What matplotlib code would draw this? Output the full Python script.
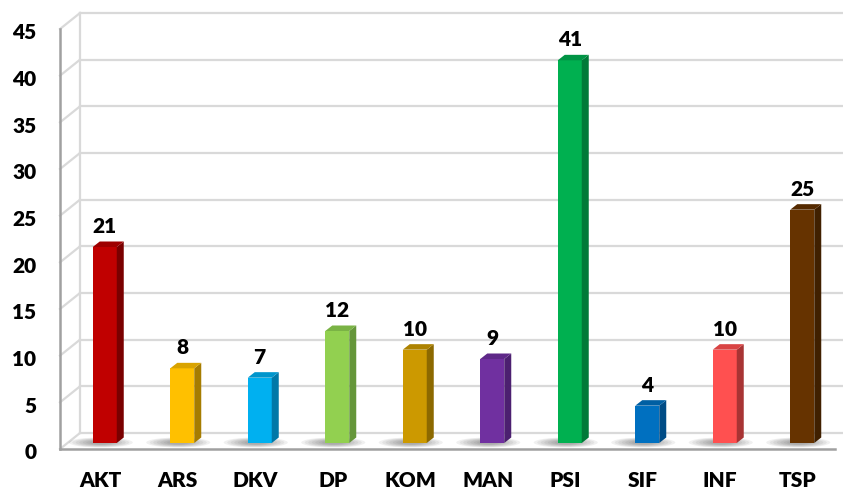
import matplotlib.pyplot as plt
from matplotlib.patches import Polygon, Ellipse

# data
parties = ["AKT", "ARS", "DKV", "DP", "KOM", "MAN", "PSI", "SIF", "INF", "TSP"]
seats = [21, 8, 7, 12, 10, 9, 41, 4, 10, 25]
front_colors = ["#C00000", "#FFC000", "#00B0F0", "#92D050", "#CC9900",
                "#7030A0", "#00B050", "#0070C0", "#FF5050", "#663300"]
side_colors = ["#7A0000", "#A67C00", "#0078A8", "#65963A", "#8C6900",
               "#4C2070", "#007A38", "#004C86", "#A83434", "#402000"]
top_colors = ["#9E0000", "#D9A300", "#0095CC", "#7AB345", "#AD8200",
              "#5E2888", "#009445", "#005FA3", "#D94444", "#552A00"]
yticks = [0, 5, 10, 15, 20, 25, 30, 35, 40, 45]

W, H = 843, 489
fig = plt.figure(figsize=(W / 100, H / 100), dpi=100)
plt.rcParams["font.family"] = ["Lato", "DejaVu Sans"]
FW = "heavy"

# front plane of the box in pixels
x0, x1, y0, y1 = 60, 835, 450, 30
ax = fig.add_axes([x0 / W, (H - y0) / H, (x1 - x0) / W, (y0 - y1) / H])
ax.set_xlim(-0.5, len(parties) - 0.5)
ax.set_ylim(0, 45)
ax.axis("off")

ux = len(parties) / (x1 - x0)   # data units per pixel
uy = 45 / (y0 - y1)

# back wall
wdx, wdy = 20 * ux, 16 * uy
xb = -0.5 + wdx
xr = -0.5 + (842 - x0) * ux
grid_c = "#D9D9D9"
ax.plot([xb, xb], [wdy, 45 + wdy], color=grid_c, lw=1.6, clip_on=False)
for v in yticks:
    ax.plot([xb, xr], [v + wdy, v + wdy], color=grid_c, lw=1.6, clip_on=False)
    ax.plot([-0.5, xb], [v, v + wdy], color=grid_c, lw=1.6, clip_on=False)

# front axis lines
ax.plot([-0.5, -0.5], [0, 45], color="#A0A0A0", lw=1.8, clip_on=False, zorder=5)
ax.plot([-0.5, len(parties) - 0.5], [0, 0], color="#A0A0A0", lw=1.8,
        clip_on=False, zorder=5)

# bars
half = 12 * ux
sdx, sdy = 7 * ux, 5.5 * uy
base = 6 * uy
for i, v in enumerate(seats):
    cx = i + 6 * ux
    # soft shadow on the floor
    for k in range(7):
        ax.add_patch(Ellipse((cx - 4 * ux, base + 0.5 * uy),
                             (64 - 7 * k) * ux, (10 - k) * uy,
                             color="#595959", alpha=0.09, lw=0, zorder=2))
    l, r, t = cx - half, cx + half, base + v
    ax.add_patch(Polygon([(l, base), (r, base), (r, t), (l, t)],
                         closed=True, fc=front_colors[i], ec="none", zorder=3))
    ax.add_patch(Polygon([(r, base), (r + sdx, base + sdy), (r + sdx, t + sdy), (r, t)],
                         closed=True, fc=side_colors[i], ec="none", zorder=3))
    ax.add_patch(Polygon([(l, t), (r, t), (r + sdx, t + sdy), (l + sdx, t + sdy)],
                         closed=True, fc=top_colors[i], ec="none", zorder=3))
    ax.annotate(str(v), (cx, t + sdy), xytext=(0, 11.5), textcoords="offset points",
                ha="center", va="center", fontsize=15, fontweight=FW,
                color="black", zorder=6)

# tick labels
for v in yticks:
    ax.annotate(str(v), (-0.5, v), xytext=(-17, -2), textcoords="offset points",
                ha="right", va="center", fontsize=15, fontweight=FW,
                annotation_clip=False)
for i, p in enumerate(parties):
    ax.annotate(p, (i, 0), xytext=(1, -22), textcoords="offset points",
                ha="center", va="center", fontsize=15, fontweight=FW,
                annotation_clip=False)

fig.savefig("out.png", dpi=100)
